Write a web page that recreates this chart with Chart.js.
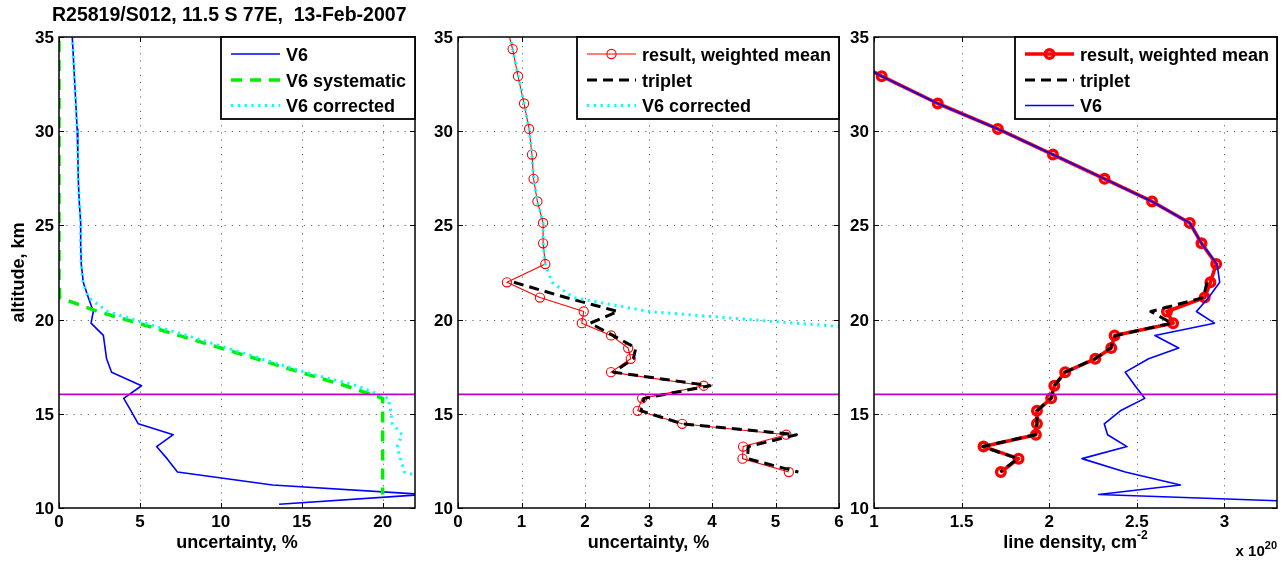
<!DOCTYPE html>
<html>
<head>
<meta charset="utf-8">
<title>R25819/S012 profile uncertainty and line density</title>
<script src="https://cdn.jsdelivr.net/npm/chart.js@4.4.1/dist/chart.umd.min.js"></script>
<style>
  html, body { margin: 0; padding: 0; background: #ffffff; }
  #wrap { position: relative; width: 1285px; height: 563px; overflow: hidden; }
  #wrap canvas { position: absolute; left: 0; top: 0; }
</style>
</head>
<body>
<div id="wrap">
  <canvas id="panelUncert" width="1285" height="563"></canvas>
  <canvas id="panelCompare" width="1285" height="563"></canvas>
  <canvas id="panelDensity" width="1285" height="563"></canvas>
</div>
<script>
// Retrieval altitude grid (km), top to bottom
const altitudeKm = [35.8, 34.36, 32.92, 31.47, 30.12, 28.76, 27.47, 26.27, 25.13, 24.05,
  22.95, 21.98, 21.17, 20.43, 19.81, 19.16, 18.49, 17.92, 17.21, 16.49,
  15.82, 15.16, 14.47, 13.89, 13.26, 12.62, 11.91, 11.22, 10.72, 10.2];

// Uncertainty profiles, %
const v6Uncertainty = [0.77, 0.86, 0.95, 1.04, 1.12, 1.165, 1.19, 1.25, 1.34, 1.34,
  1.375, 1.5, 1.81, 2.12, 1.98, 2.74, 2.85, 2.94, 3.25, 5.1,
  4.0, 4.45, 4.9, 7.06, 6.03, 6.68, 7.32, 13.2, 22.6, 13.6];
const v6Systematic = [0, 0, 0, 0, 0, 0, 0, 0, 0, 0,
  0, 0, 0.05, 2.4, 4.9, 7.4, 10.0, 12.2, 14.9, 17.7,
  20.0, 20, 20, 20, 20, 20, 20, 20, 20, null];
const v6Corrected = [0.77, 0.86, 0.95, 1.04, 1.12, 1.165, 1.19, 1.25, 1.34, 1.34,
  1.375, 1.48, 1.82, 3.0, 5.3, 7.9, 10.4, 12.5, 15.2, 18.4,
  20.35, 20.5, 20.6, 21.2, 20.9, 21.1, 21.35, 24.1, 30.0, 24.3];
const meanUncertainty = [0.75, 0.86, 0.945, 1.04, 1.12, 1.165, 1.19, 1.25, 1.34, 1.34,
  1.375, 0.77, 1.29, 1.98, 1.95, 2.41, 2.68, 2.72, 2.41, 3.87,
  2.90, 2.83, 3.53, 5.17, 4.49, 4.48, 5.21, null, null, null];
const tripletUncertainty = [null, null, null, null, null, null, null, null, null, null,
  null, 0.88, 1.70, 2.52, 2.08, 2.44, 2.80, 2.76, 2.45, 3.97,
  2.93, 2.88, 3.53, 5.33, 4.57, 4.56, 5.36, null, null, null];

// Line density profiles, units of 1e20 cm^-2
const meanDensity = [null, 0.76, 1.044, 1.364, 1.707, 2.021, 2.316, 2.587, 2.802, 2.869,
  2.953, 2.92, 2.887, 2.672, 2.707, 2.373, 2.354, 2.263, 2.091, 2.029,
  2.011, 1.93, 1.93, 1.924, 1.625, 1.825, 1.724, null, null, null];
const tripletDensity = [null, null, null, null, null, null, null, null, null, null,
  null, 2.90, 2.88, 2.58, 2.70, 2.38, 2.35, 2.26, 2.09, 2.03,
  2.01, 1.93, 1.93, 1.92, 1.62, 1.82, 1.72, null, null, null];
const v6Density = [null, 0.76, 1.044, 1.364, 1.707, 2.021, 2.316, 2.587, 2.802, 2.869,
  2.958, 2.973, 2.91, 2.84, 2.943, 2.603, 2.739, 2.567, 2.434, 2.49,
  2.545, 2.406, 2.314, 2.333, 2.444, 2.187, 2.434, 2.749, 2.282, 3.86];

// Tropopause height, km
const tropopauseKm = 16.03;

// Axis ticks
const altitudeTicks = [10, 15, 20, 25, 30, 35];
const uncertaintyTicksWide = [0, 5, 10, 15, 20];
const uncertaintyTicksNarrow = [0, 1, 2, 3, 4, 5, 6];
const densityTicks = [1, 1.5, 2, 2.5, 3];

const FONT = '"Liberation Sans", Arial, Helvetica, sans-serif';
const bold = px => `bold ${px}px ${FONT}`;

function profile(label, values, style) {
  return {
    label,
    data: altitudeKm.map((h, i) => ({ x: values[i], y: h })).filter(p => p.x !== null),
    borderColor: style.color,
    backgroundColor: 'rgba(0,0,0,0)',
    borderWidth: style.width,
    borderDash: style.dash || [],
    borderCapStyle: 'butt',
    borderJoinStyle: 'round',
    pointRadius: style.marker ? style.marker.r : 0,
    pointHoverRadius: style.marker ? style.marker.r : 0,
    pointBorderWidth: style.marker ? style.marker.w : 0,
    pointBorderColor: style.color,
    pointBackgroundColor: 'rgba(0,0,0,0)',
    tension: 0,
    fill: false
  };
}

function tropopause(range) {
  return {
    label: 'tropopause',
    data: [{ x: range[0], y: tropopauseKm }, { x: range[1], y: tropopauseKm }],
    borderColor: '#c400c4',
    borderWidth: 1.6,
    pointRadius: 0,
    pointHoverRadius: 0,
    fill: false
  };
}

function textWithSup(ctx, main, sup, cx, baseline, size, supSize, align) {
  ctx.font = bold(size);
  const w1 = ctx.measureText(main).width;
  ctx.font = bold(supSize);
  const w2 = sup ? ctx.measureText(sup).width : 0;
  const total = w1 + w2;
  const x0 = align === 'right' ? cx - total : cx - total / 2;
  ctx.textAlign = 'left';
  ctx.font = bold(size);
  ctx.fillText(main, x0, baseline);
  if (sup) {
    ctx.font = bold(supSize);
    ctx.fillText(sup, x0 + w1, baseline - size * 0.5);
  }
}

const panelFrame = {
  id: 'panelFrame',
  beforeDatasetsDraw(chart) {
    const { ctx, chartArea: a } = chart;
    const xs = chart.scales.x, ys = chart.scales.y;
    ctx.save();
    ctx.strokeStyle = 'rgba(0,0,0,0.6)';
    ctx.lineWidth = 1;
    ctx.setLineDash([1.2, 6]);
    ctx.beginPath();
    for (const t of xs.ticks) {
      const px = Math.round(xs.getPixelForValue(t.value)) + 0.5;
      if (px <= a.left + 1 || px >= a.right - 1) continue;
      ctx.moveTo(px, a.bottom); ctx.lineTo(px, a.top);
    }
    for (const t of ys.ticks) {
      const py = Math.round(ys.getPixelForValue(t.value)) + 0.5;
      if (py <= a.top + 1 || py >= a.bottom - 1) continue;
      ctx.moveTo(a.left, py); ctx.lineTo(a.right, py);
    }
    ctx.stroke();
    ctx.restore();
  },
  afterDraw(chart, args, o) {
    const { ctx, chartArea: a } = chart;
    const xs = chart.scales.x, ys = chart.scales.y;
    ctx.save();
    ctx.setLineDash([]);
    ctx.strokeStyle = '#000';
    ctx.fillStyle = '#000';

    // inward tick marks on all four sides
    ctx.lineWidth = 1;
    ctx.beginPath();
    for (const t of xs.ticks) {
      const px = Math.round(xs.getPixelForValue(t.value)) + 0.5;
      ctx.moveTo(px, a.bottom); ctx.lineTo(px, a.bottom - 5);
      ctx.moveTo(px, a.top); ctx.lineTo(px, a.top + 5);
    }
    for (const t of ys.ticks) {
      const py = Math.round(ys.getPixelForValue(t.value)) + 0.5;
      ctx.moveTo(a.left, py); ctx.lineTo(a.left + 5, py);
      ctx.moveTo(a.right, py); ctx.lineTo(a.right - 5, py);
    }
    ctx.stroke();

    // axes box
    ctx.lineWidth = 1.5;
    ctx.strokeRect(a.left, a.top, a.right - a.left, a.bottom - a.top);

    // tick labels
    ctx.font = bold(17);
    ctx.textBaseline = 'alphabetic';
    ctx.textAlign = 'center';
    for (const t of xs.ticks) {
      ctx.fillText(String(t.value), xs.getPixelForValue(t.value), a.bottom + 19);
    }
    ctx.textAlign = 'right';
    for (const t of ys.ticks) {
      ctx.fillText(String(t.value), a.left - 5, ys.getPixelForValue(t.value) + 6);
    }

    // axis titles
    textWithSup(ctx, o.xTitle, o.xTitleSup, (a.left + a.right) / 2, a.bottom + 40, 18, 12, 'center');
    if (o.exponent) {
      textWithSup(ctx, 'x 10', o.exponent, a.right, a.bottom + 48, 15, 11, 'right');
    }
    if (o.yTitle) {
      ctx.save();
      ctx.translate(24, (a.top + a.bottom) / 2);
      ctx.rotate(-Math.PI / 2);
      ctx.font = bold(18);
      ctx.textAlign = 'center';
      ctx.fillText(o.yTitle, 0, 0);
      ctx.restore();
    }
    if (o.title) {
      ctx.font = bold(19.5);
      ctx.textAlign = 'left';
      ctx.fillText(o.title, a.left - 7, a.top - 16);
    }

    // legend box in the upper right corner
    const L = o.legend;
    const left = a.right - L.width, top = a.top;
    ctx.fillStyle = '#fff';
    ctx.fillRect(left, top, L.width, L.height);
    ctx.lineWidth = 1.8;
    ctx.strokeStyle = '#000';
    ctx.strokeRect(left, top, L.width, L.height);
    L.items.forEach((idx, k) => {
      const ds = chart.data.datasets[idx];
      const y = top + L.rows[k];
      const x0 = left + 10, x1 = left + 59;
      ctx.save();
      ctx.strokeStyle = ds.borderColor;
      ctx.lineWidth = ds.borderWidth;
      ctx.lineCap = 'butt';
      ctx.setLineDash(ds.borderDash || []);
      ctx.beginPath(); ctx.moveTo(x0, y); ctx.lineTo(x1, y); ctx.stroke();
      if (ds.pointRadius > 0) {
        ctx.setLineDash([]);
        ctx.lineWidth = ds.pointBorderWidth;
        ctx.beginPath(); ctx.arc((x0 + x1) / 2, y, ds.pointRadius, 0, Math.PI * 2); ctx.stroke();
      }
      ctx.restore();
      ctx.fillStyle = '#000';
      ctx.font = bold(18);
      ctx.textAlign = 'left';
      ctx.fillText(ds.label, left + 65, y + 6.5);
    });
    ctx.restore();
  }
};

function makePanel(canvasId, area, xRange, xTicks, datasets, frameOpts) {
  datasets.forEach((ds, i) => { ds.order = -i; });
  return new Chart(document.getElementById(canvasId), {
    type: 'line',
    data: { datasets },
    options: {
      responsive: false,
      animation: false,
      devicePixelRatio: 1,
      indexAxis: 'y',
      events: [],
      layout: { padding: { left: area.left, top: area.top, right: 1285 - area.right, bottom: 563 - area.bottom } },
      scales: {
        x: {
          type: 'linear', min: xRange[0], max: xRange[1],
          afterBuildTicks: s => { s.ticks = xTicks.map(v => ({ value: v })); },
          afterFit: s => { s.height = 0; },
          ticks: { display: false }, grid: { display: false }, border: { display: false }
        },
        y: {
          type: 'linear', min: 10, max: 35,
          afterBuildTicks: s => { s.ticks = altitudeTicks.map(v => ({ value: v })); },
          afterFit: s => { s.width = 0; },
          ticks: { display: false }, grid: { display: false }, border: { display: false }
        }
      },
      plugins: { legend: { display: false }, tooltip: { enabled: false }, panelFrame: frameOpts }
    },
    plugins: [panelFrame]
  });
}

const legendRows = [17, 43, 68.5];

// Left: V6 uncertainty budget
const rangeWide = [0, 22];
makePanel('panelUncert', { left: 59, top: 37, right: 415, bottom: 508 }, rangeWide, uncertaintyTicksWide, [
  profile('V6', v6Uncertainty, { color: '#0000ff', width: 1.6 }),
  profile('V6 systematic', v6Systematic, { color: '#00ee00', width: 3.5, dash: [11, 8] }),
  profile('V6 corrected', v6Corrected, { color: '#00ffff', width: 3, dash: [2.2, 4.6] }),
  tropopause(rangeWide)
], {
  title: 'R25819/S012, 11.5 S 77E,  13-Feb-2007',
  yTitle: 'altitude, km',
  xTitle: 'uncertainty, %',
  legend: { width: 194, height: 82, rows: legendRows, items: [0, 1, 2] }
});

// Middle: weighted mean vs triplet uncertainty
const rangeNarrow = [0, 6];
makePanel('panelCompare', { left: 458, top: 37, right: 839, bottom: 508 }, rangeNarrow, uncertaintyTicksNarrow, [
  profile('result, weighted mean', meanUncertainty, { color: '#ff0000', width: 1.1, marker: { r: 4.6, w: 1.1 } }),
  profile('triplet', tripletUncertainty, { color: '#000000', width: 3, dash: [10, 6] }),
  profile('V6 corrected', v6Corrected, { color: '#00ffff', width: 3, dash: [2.2, 4.6] }),
  tropopause(rangeNarrow)
], {
  xTitle: 'uncertainty, %',
  legend: { width: 262, height: 82, rows: legendRows, items: [0, 1, 2] }
});

// Right: line density profiles
const rangeDensity = [1, 3.3];
makePanel('panelDensity', { left: 874, top: 37, right: 1277, bottom: 508 }, rangeDensity, densityTicks, [
  profile('result, weighted mean', meanDensity, { color: '#ff0000', width: 3.6, marker: { r: 4.3, w: 3.4 } }),
  profile('triplet', tripletDensity, { color: '#000000', width: 3, dash: [10, 6] }),
  profile('V6', v6Density, { color: '#0000ff', width: 1.6 }),
  tropopause(rangeDensity)
], {
  xTitle: 'line density, cm',
  xTitleSup: '-2',
  exponent: '20',
  legend: { width: 262, height: 82, rows: legendRows, items: [0, 1, 2] }
});
</script>
</body>
</html>
